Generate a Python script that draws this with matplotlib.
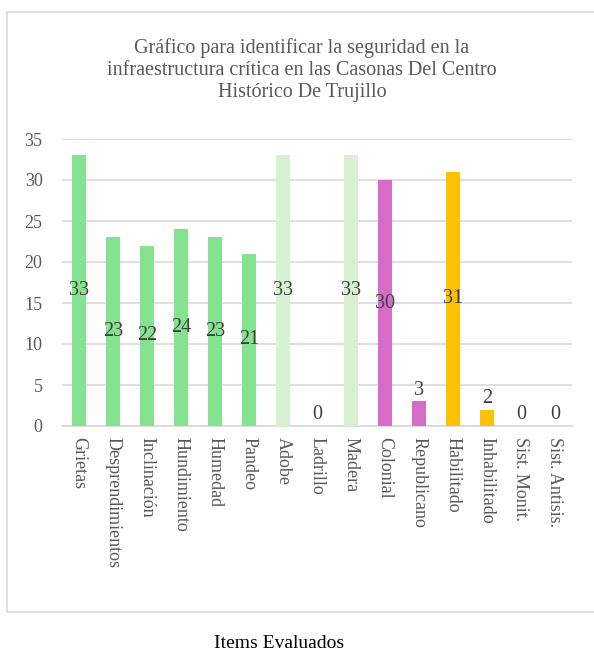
import matplotlib.pyplot as plt
from matplotlib.patches import Rectangle

categories = ["Grietas", "Desprendimientos", "Inclinación", "Hundimiento", "Humedad",
              "Pandeo", "Adobe", "Ladrillo", "Madera", "Colonial", "Republicano",
              "Habilitado", "Inhabilitado", "Sist. Monit.", "Sist. Antisis."]
values = [33, 23, 22, 24, 23, 21, 33, 0, 33, 30, 3, 31, 2, 0, 0]
groups = ["dano"] * 6 + ["material"] * 3 + ["estilo"] * 2 + ["estado"] * 2 + ["sist"] * 2

group_colors = {
    "dano": "#84E291",
    "material": "#D8F2D1",
    "estilo": "#D66BC8",
    "estado": "#FFC000",
    "sist": "#84E291",
}

plt.rcParams['font.family'] = ['Liberation Serif', 'DejaVu Serif']

fig = plt.figure(figsize=(5.94, 6.54), dpi=100)

# chart frame (right edge runs off the picture)
fig.patches.append(Rectangle((7 / 594, 1 - 612 / 654), 600 / 594, 600 / 654,
                             transform=fig.transFigure, fill=False,
                             edgecolor="#d9d9d9", linewidth=1.2))

ax = fig.add_axes([62 / 594, 1 - 426 / 654, 510 / 594, 287 / 654])

x = range(len(categories))
colors = [group_colors[g] for g in groups]
ax.bar(x, values, width=0.41, color=colors, zorder=3)

for i, v in enumerate(values):
    if v >= 5:
        ax.text(i, v / 2, str(v), ha="center", va="center", fontsize=14.5,
                color="#404040", zorder=4)
    else:
        ax.text(i, v + 0.2, str(v), ha="center", va="bottom", fontsize=14.5,
                color="#404040", zorder=4)

ax.set_ylim(0, 35)
ax.set_xlim(-0.5, len(categories) - 0.5)
ax.set_yticks(range(0, 36, 5))
ax.grid(axis="y", color="#d9d9d9", linewidth=1.2, zorder=0)
ax.set_xticks(list(x))
ax.set_xticklabels(categories, rotation=270, fontsize=13, color="#595959",
                   va="top", ha="center")
ax.tick_params(axis="both", length=0, colors="#595959")
ax.tick_params(axis="y", labelsize=13, pad=14)
ax.tick_params(axis="x", pad=8)
for s in ["top", "right", "left"]:
    ax.spines[s].set_visible(False)
ax.spines["bottom"].set_color("#d9d9d9")
ax.spines["bottom"].set_linewidth(1.2)

fig.text(302 / 594, 1 - 70 / 654,
         "Gráfico para identificar la seguridad en la\n"
         "infraestructura crítica en las Casonas Del Centro\n"
         "Histórico De Trujillo",
         ha="center", va="center", fontsize=14.5, color="#595959", linespacing=1.2)

fig.text(279 / 594, 1 - 643 / 654, "Items Evaluados", ha="center", va="center",
         fontsize=14, color="black")

fig.savefig("out.png", dpi=100)
